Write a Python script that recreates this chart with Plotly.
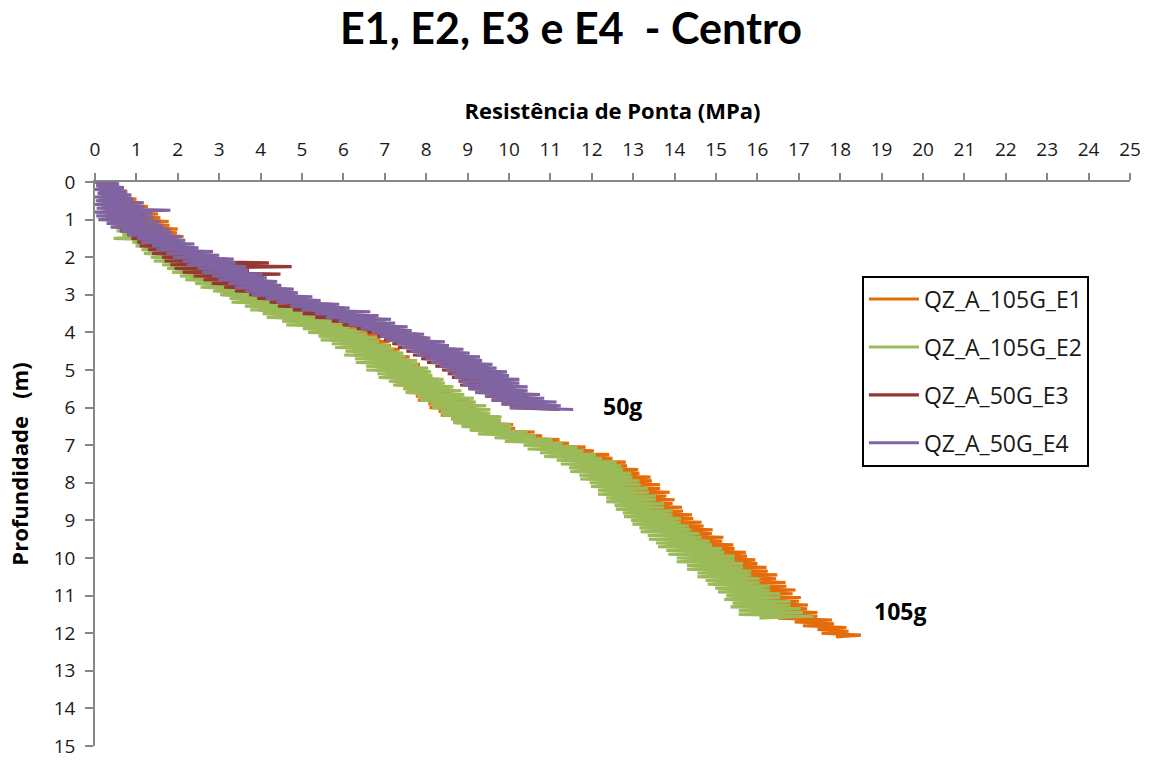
import plotly.graph_objects as go

# Sampling interval of the cone penetration readings (m)
STEP = 0.05

# Tip resistance qc (MPa), one reading every 0.05 m starting at 0 m
q_E1 = [
    0.20, 0.52, 0.30, 0.64, 0.26, 0.78, 0.40, 0.82, 0.44, 1.00,
    0.52, 1.12, 0.55, 1.28, 0.66, 1.30, 0.70, 1.52, 0.84, 1.58,
    0.88, 1.78, 1.00, 1.80, 1.02, 2.00, 1.18, 1.98, 1.20, 2.14,
    1.32, 2.02, 1.30, 2.18, 1.45, 2.22, 1.48, 2.40, 1.58, 2.45,
    1.60, 2.65, 1.78, 2.68, 1.82, 2.92, 2.05, 3.00, 2.12, 3.28,
    2.32, 3.36, 2.42, 3.62, 2.64, 3.72, 2.75, 4.02, 2.98, 4.15,
    3.08, 4.45, 3.35, 4.60, 3.52, 4.98, 3.78, 5.10, 3.96, 5.62,
    4.25, 5.75, 4.40, 6.12, 4.75, 6.18, 4.90, 6.52, 5.25, 6.60,
    5.38, 6.85, 5.60, 6.90, 5.70, 7.12, 5.95, 7.15, 6.02, 7.36,
    6.22, 7.35, 6.25, 7.60, 6.50, 7.62, 6.52, 7.85, 6.75, 7.86,
    6.78, 8.05, 7.00, 8.10, 7.02, 8.32, 7.25, 8.36, 7.28, 8.60,
    7.45, 8.66, 7.52, 8.88, 7.75, 8.90, 7.80, 9.15, 8.05, 9.20,
    8.08, 9.45, 8.30, 9.50, 8.35, 9.78, 8.60, 9.80, 8.72, 10.10,
    8.95, 10.15, 9.15, 10.62, 9.60, 10.80, 9.85, 11.22, 10.30, 11.45,
    10.55, 11.85, 10.85, 12.05, 10.95, 12.42, 11.25, 12.50, 11.35, 12.82,
    11.65, 12.85, 11.70, 13.12, 11.90, 13.15, 11.95, 13.42, 12.20, 13.45,
    12.25, 13.65, 12.45, 13.65, 12.45, 13.88, 12.65, 13.80, 12.65, 14.00,
    12.85, 13.95, 12.85, 14.18, 13.05, 14.20, 13.05, 14.42, 13.25, 14.45,
    13.25, 14.65, 13.45, 14.70, 13.50, 14.92, 13.70, 14.90, 13.75, 15.18,
    13.95, 15.15, 14.00, 15.42, 14.20, 15.45, 14.25, 15.72, 14.45, 15.75,
    14.45, 15.95, 14.65, 16.00, 14.70, 16.22, 14.90, 16.25, 14.95, 16.48,
    15.15, 16.45, 15.15, 16.68, 15.40, 16.70, 15.40, 16.92, 15.65, 16.85,
    15.65, 17.05, 15.85, 17.00, 15.90, 17.22, 16.10, 17.20, 16.15, 17.45,
    16.35, 17.45, 16.50, 17.80, 16.90, 17.85, 17.10, 18.15, 17.45, 18.20,
    17.55, 18.50, 17.90,
]

q_E2 = [
    0.05, 0.38, 0.10, 0.46, 0.08, 0.58, 0.15, 0.55, 0.20, 0.72,
    0.18, 0.84, 0.28, 0.92, 0.24, 1.02, 0.36, 1.12, 0.33, 1.25,
    0.45, 1.28, 0.40, 1.46, 0.58, 1.38, 0.52, 1.62, 0.66, 1.58,
    0.45, 1.72, 0.90, 1.66, 0.98, 1.92, 1.12, 2.08, 1.18, 2.15,
    1.35, 2.32, 1.42, 2.55, 1.62, 2.62, 1.74, 2.92, 1.86, 3.00,
    2.05, 3.25, 2.18, 3.36, 2.42, 3.75, 2.55, 3.90, 2.85, 4.35,
    3.02, 4.42, 3.25, 4.78, 3.30, 4.86, 3.62, 5.15, 3.75, 5.32,
    4.05, 5.66, 4.15, 5.74, 4.52, 6.02, 4.62, 6.15, 5.02, 6.50,
    5.15, 6.58, 5.40, 6.82, 5.45, 6.86, 5.72, 7.12, 5.80, 7.22,
    6.05, 7.45, 6.02, 7.50, 6.28, 7.78, 6.30, 7.80, 6.55, 8.05,
    6.55, 8.12, 6.82, 8.15, 6.85, 8.42, 7.10, 8.45, 7.20, 8.66,
    7.45, 8.85, 7.50, 8.92, 7.78, 9.15, 7.85, 9.20, 8.10, 9.45,
    8.15, 9.55, 8.35, 9.55, 8.38, 9.82, 8.60, 9.80, 8.65, 10.05,
    8.85, 10.05, 9.05, 10.45, 9.25, 10.65, 9.65, 11.05, 9.90, 11.30,
    10.35, 11.65, 10.45, 11.80, 10.75, 12.10, 10.85, 12.25, 11.15, 12.60,
    11.25, 12.72, 11.45, 12.75, 11.48, 12.95, 11.70, 12.98, 11.72, 13.15,
    11.95, 13.18, 11.98, 13.35, 12.15, 13.38, 12.15, 13.55, 12.35, 13.55,
    12.35, 13.75, 12.55, 13.75, 12.58, 13.95, 12.75, 13.95, 12.78, 14.15,
    12.95, 14.15, 12.98, 14.35, 13.15, 14.40, 13.18, 14.60, 13.35, 14.65,
    13.38, 14.85, 13.55, 14.90, 13.60, 15.15, 13.80, 15.20, 13.85, 15.45,
    14.05, 15.45, 14.05, 15.65, 14.30, 15.65, 14.30, 15.85, 14.55, 15.85,
    14.55, 16.05, 14.75, 16.05, 14.80, 16.30, 14.98, 16.30, 15.05, 16.55,
    15.25, 16.55, 15.20, 16.80, 15.40, 16.80, 15.35, 17.05, 15.55, 17.10,
    15.55, 17.35, 16.05,
]

q_E3 = [
    0.00, 0.48, 0.04, 0.50, 0.09, 0.62, 0.08, 0.68, 0.14, 0.82,
    0.08, 0.98, 0.16, 0.96, 0.20, 1.12, 0.20, 1.18, 0.27, 1.28,
    0.32, 1.42, 0.38, 1.48, 0.52, 1.62, 0.60, 1.68, 0.78, 1.88,
    0.88, 2.02, 1.02, 2.18, 1.08, 2.38, 1.28, 2.48, 1.38, 2.82,
    1.62, 3.18, 1.68, 4.20, 1.82, 4.75, 1.92, 3.72, 2.12, 4.48,
    2.38, 4.08, 2.62, 4.38, 2.82, 4.36, 3.12, 4.62, 3.38, 4.82,
    3.72, 5.02, 3.92, 5.38, 4.22, 5.68, 4.42, 6.02, 4.78, 6.32,
    5.02, 6.58, 5.32, 6.88, 5.72, 7.02, 5.98, 7.32, 6.32, 7.52,
    6.58, 7.82, 6.82, 8.02, 6.98, 8.32, 7.18, 8.48, 7.32, 8.72,
    7.52, 8.88, 7.68, 9.08, 7.88, 9.18, 8.02, 9.38, 8.22, 9.52,
    8.38, 9.72, 8.52, 9.82, 8.62, 9.98, 8.78, 10.02, 8.82, 10.18,
    9.02, 10.28, 9.18, 10.52, 9.42, 10.68, 9.58, 10.88, 9.82, 11.02,
    10.02, 11.22,
]

q_E4 = [
    0.00, 0.58, 0.03, 0.70, 0.00, 0.76, 0.06, 0.88, 0.00, 0.92,
    0.02, 1.18, 0.00, 1.20, 0.04, 1.82, 0.00, 1.38, 0.03, 1.42,
    0.08, 1.58, 0.28, 1.65, 0.38, 1.80, 0.62, 1.85, 0.78, 2.10,
    1.02, 2.18, 1.12, 2.40, 1.38, 2.50, 1.48, 2.85, 1.72, 3.00,
    1.88, 3.35, 2.12, 3.40, 2.22, 3.65, 2.48, 3.70, 2.58, 4.05,
    2.82, 4.15, 2.98, 4.40, 3.22, 4.50, 3.38, 4.80, 3.62, 4.90,
    3.78, 5.25, 4.12, 5.45, 4.38, 5.90, 4.72, 6.15, 4.98, 6.65,
    5.32, 6.85, 5.58, 7.15, 5.88, 7.25, 6.12, 7.55, 6.42, 7.65,
    6.68, 7.95, 6.88, 8.10, 7.02, 8.45, 7.28, 8.55, 7.42, 8.90,
    7.62, 9.05, 7.78, 9.30, 7.98, 9.35, 8.12, 9.60, 8.32, 9.70,
    8.48, 9.95, 8.62, 10.00, 8.68, 10.25, 8.82, 10.25, 8.88, 10.45,
    9.02, 10.45, 9.18, 10.75, 9.42, 10.85, 9.58, 11.15, 9.82, 11.25,
    10.02, 11.55,
]

series_names = ["QZ_A_105G_E1", "QZ_A_105G_E2", "QZ_A_50G_E3", "QZ_A_50G_E4"]
series_values = [q_E1, q_E2, q_E3, q_E4]
series_colors = ["#E46C0A", "#9BBB59", "#953735", "#8064A2"]

x_ticks = list(range(0, 26))
y_ticks = list(range(0, 16))

FONT = "Open Sans"
TITLE_FONT = "Lato"
AXIS_GREY = "#868686"
TEXT = "#1a1a1a"

fig = go.Figure()
for i, (name, q, color) in enumerate(zip(series_names, series_values, series_colors)):
    depth = [round(k * STEP, 2) for k in range(len(q))]
    fig.add_trace(go.Scatter(
        x=q, y=depth, mode="lines", name=name,
        line=dict(color=color, width=3.1),
        legendgroup=f"g{i}",
    ))

fig.add_annotation(x=12.75, y=5.97, text="<b>50g</b>", showarrow=False,
                   font=dict(family=FONT, size=23, color="#000"))
fig.add_annotation(x=19.45, y=11.4, text="<b>105g</b>", showarrow=False,
                   font=dict(family=FONT, size=23, color="#000"))

fig.update_layout(
    width=1156, height=760,
    margin=dict(l=95, r=26, t=182, b=14),
    plot_bgcolor="white", paper_bgcolor="white",
    font=dict(family=FONT, size=19, color=TEXT),
    title=dict(text="<b>E1, E2, E3 e E4  - Centro</b>", x=0.494, xref="container",
               xanchor="center", y=0.962, yref="container", yanchor="middle",
               font=dict(family=TITLE_FONT, size=43, color="#000")),
    showlegend=True,
    legend=dict(x=0.741, y=0.834, xanchor="left", yanchor="top",
                bordercolor="#000", borderwidth=2, bgcolor="white",
                font=dict(family=FONT, size=23, color=TEXT),
                tracegroupgap=15, itemwidth=50),
    xaxis=dict(range=[0, 25], side="top", tickvals=x_ticks, automargin=False,
               ticks="outside", ticklen=7, tickcolor=AXIS_GREY, tickwidth=1.5,
               showline=True, linecolor=AXIS_GREY, linewidth=1.5,
               showgrid=False, zeroline=False, ticklabelstandoff=10,
               tickfont=dict(family=FONT, size=19, color=TEXT),
               title=dict(text="<b>Resistência de Ponta (MPa)</b>", standoff=10,
                          font=dict(family=FONT, size=22, color="#000"))),
    yaxis=dict(range=[15, 0], tickvals=y_ticks, automargin=False,
               ticks="outside", ticklen=8, tickcolor=AXIS_GREY, tickwidth=1.5,
               showline=True, linecolor=AXIS_GREY, linewidth=1.5,
               showgrid=False, zeroline=False, ticklabelstandoff=6,
               tickfont=dict(family=FONT, size=19, color=TEXT),
               title=dict(text="<b>Profundidade   (m)</b>", standoff=19,
                          font=dict(family=FONT, size=22, color="#000"))),
)

fig.write_html("out.html")
